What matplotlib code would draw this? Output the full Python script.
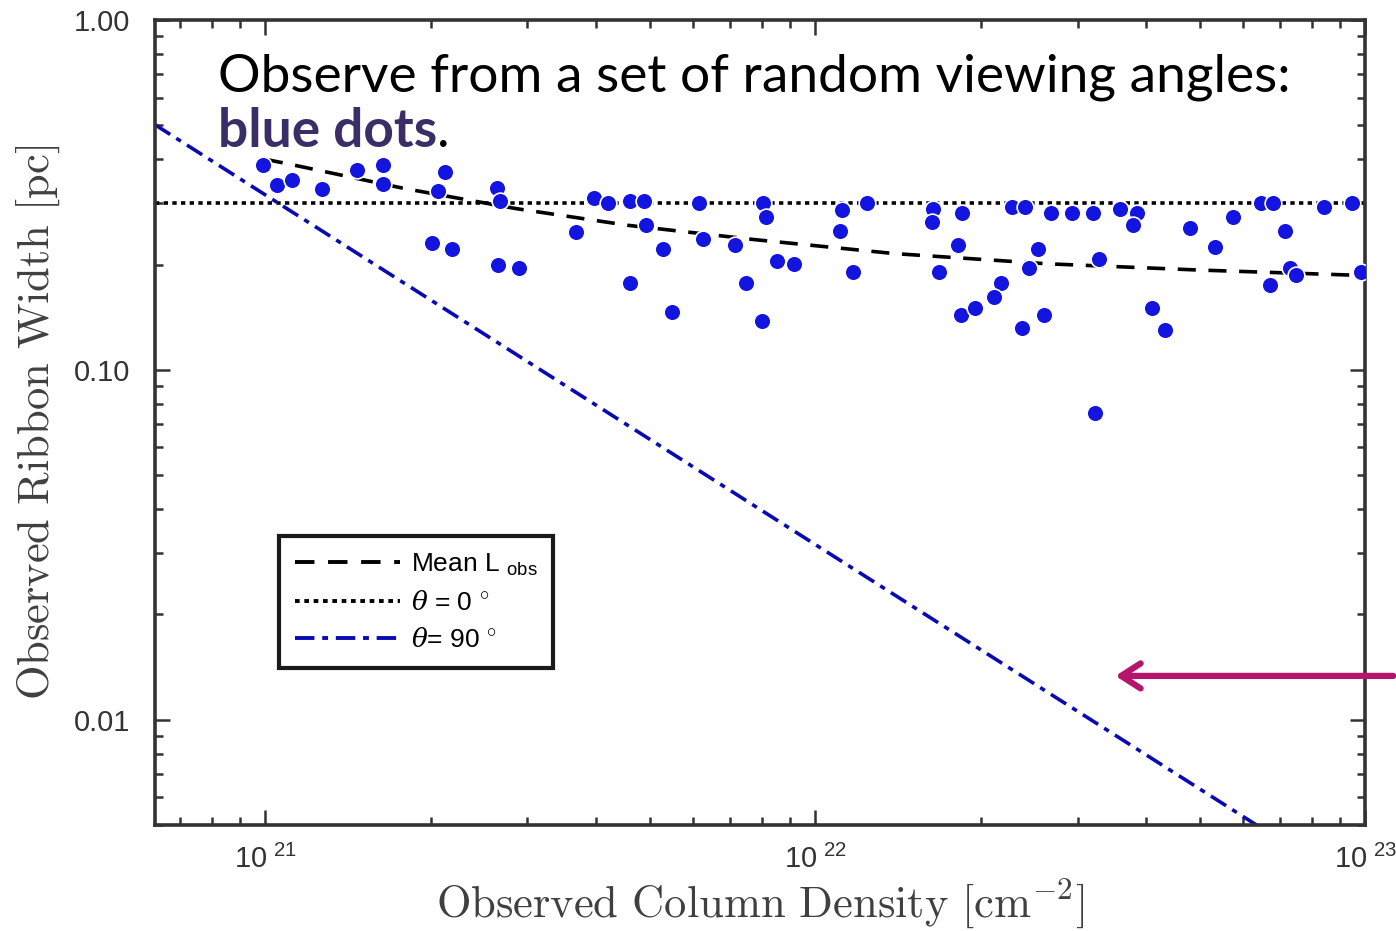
import numpy as np
import matplotlib
matplotlib.use('Agg')
from matplotlib import pyplot as plt
from matplotlib.lines import Line2D
from matplotlib.patches import FancyArrowPatch

plt.rcParams['font.family'] = ['Liberation Sans', 'DejaVu Sans']
plt.rcParams['mathtext.fontset'] = 'custom'
plt.rcParams['mathtext.rm'] = 'cmr10'
plt.rcParams['mathtext.sf'] = 'Liberation Sans'
plt.rcParams['mathtext.it'] = 'DejaVu Serif:italic'
plt.rcParams['mathtext.fallback'] = 'cm'

# observed column density [cm^-2] and ribbon width [pc] for each viewing angle
column_density = [0.99e21, 1.05e21, 1.12e21, 1.27e21, 1.47e21, 1.64e21, 1.64e21, 2.12e21, 2.06e21,
                  2.64e21, 2.67e21, 2.01e21, 2.19e21, 2.65e21, 2.89e21, 3.67e21, 3.97e21, 4.21e21,
                  4.61e21, 4.89e21, 4.93e21, 5.30e21, 4.61e21, 5.50e21, 6.15e21, 6.26e21, 7.16e21,
                  7.50e21, 8.05e21, 8.15e21, 8.02e21, 8.54e21, 9.16e21, 1.11e22, 1.12e22, 1.17e22,
                  1.24e22, 1.64e22, 1.63e22, 1.85e22, 1.82e22, 1.68e22, 1.84e22, 1.95e22, 2.18e22,
                  2.11e22, 2.38e22, 2.45e22, 2.54e22, 2.61e22, 2.28e22, 2.41e22, 2.68e22, 2.93e22,
                  3.20e22, 3.28e22, 3.58e22, 3.84e22, 3.79e22, 4.09e22, 4.32e22, 4.81e22, 5.34e22,
                  5.74e22, 6.45e22, 6.81e22, 7.16e22, 7.31e22, 7.47e22, 6.70e22, 8.40e22, 9.44e22,
                  9.84e22, 3.23e22]
ribbon_width = [0.384, 0.337, 0.350, 0.328, 0.372, 0.384, 0.339, 0.367, 0.324,
                0.330, 0.303, 0.231, 0.222, 0.199, 0.196, 0.247, 0.309, 0.300,
                0.303, 0.303, 0.260, 0.222, 0.177, 0.146, 0.300, 0.236, 0.228,
                0.177, 0.300, 0.273, 0.138, 0.205, 0.201, 0.250, 0.286, 0.190,
                0.300, 0.289, 0.265, 0.280, 0.228, 0.190, 0.143, 0.150, 0.177,
                0.162, 0.132, 0.195, 0.222, 0.143, 0.293, 0.293, 0.280, 0.280,
                0.280, 0.208, 0.289, 0.280, 0.259, 0.150, 0.130, 0.255, 0.225,
                0.273, 0.300, 0.300, 0.250, 0.196, 0.187, 0.175, 0.293, 0.300,
                0.191, 0.0753]

# mean observed width
mean_density = [1.0e21, 1.11e21, 1.79e21, 2.86e21, 4.56e21, 7.69e21, 1.39e22, 2.64e22, 4.93e22, 1.0e23]
mean_width = [0.400, 0.387, 0.330, 0.289, 0.259, 0.236, 0.215, 0.201, 0.193, 0.186]

# face-on (theta = 0) and edge-on (theta = 90) widths
theta0_density = [6.31e20, 1.0e23]
theta0_width = [0.30, 0.30]
theta90_density = [6.31e20, 1.0e23]
theta90_width = [0.502, 0.00317]

x_ticks = [1e21, 1e22, 1e23]
x_ticklabels = [r'$\mathsf{10^{\ 21}}$', r'$\mathsf{10^{\ 22}}$', r'$\mathsf{10^{\ 23}}$']
y_ticks = [0.01, 0.1, 1.0]
y_ticklabels = ['0.01', '0.10', '1.00']

mean_style = (0, (5, 3.5))
dot_style = (0, (1.2, 1.2))
dashdot_style = (0, (5, 2, 1.5, 2))
edge_blue = '#0a0ab4'

fig = plt.figure(figsize=(13.96, 9.31), dpi=100)
ax = fig.add_axes([0.111, 0.1139, 0.867, 0.8646])

ax.plot(theta0_density, theta0_width, color='black', linestyle=dot_style, linewidth=2.6, zorder=2)
ax.plot(theta90_density, theta90_width, color=edge_blue, linestyle=dashdot_style, linewidth=2.6, zorder=2)
ax.plot(mean_density, mean_width, color='black', linestyle=mean_style, linewidth=2.6, zorder=3)
ax.scatter(column_density, ribbon_width, s=145, color='#1414e0', edgecolors='white', linewidths=1.2, zorder=4)

ax.set_xscale('log')
ax.set_yscale('log')
ax.set_xlim(6.31e20, 1e23)
ax.set_ylim(0.005, 1.0)

ax.set_xticks(x_ticks)
ax.set_xticklabels(x_ticklabels)
ax.set_yticks(y_ticks)
ax.set_yticklabels(y_ticklabels)
ax.tick_params(which='both', direction='in', top=True, right=True, colors='#333333', width=1.8)
ax.tick_params(which='major', length=11, labelsize=21)
ax.tick_params(which='minor', length=6)
ax.tick_params(axis='x', which='major', pad=14)
ax.tick_params(axis='y', which='major', pad=18)
for sp in ax.spines.values():
    sp.set_linewidth(2.6)
    sp.set_color('#333333')

ax.set_xlabel(r'$\mathrm{Observed\ Column\ Density\ [cm^{-2}]}$', fontsize=32, color='#404040', labelpad=2)
ax.set_ylabel(r'$\mathrm{Observed\ Ribbon\ Width\ [pc]}$', fontsize=32, color='#404040', labelpad=8)

handles = [Line2D([], [], color='black', linestyle=mean_style, linewidth=2.8),
           Line2D([], [], color='black', linestyle=dot_style, linewidth=2.8),
           Line2D([], [], color=edge_blue, linestyle=dashdot_style, linewidth=2.8)]
labels = [r'Mean L $_{\mathsf{obs}}$', r'$\theta$ = 0 $^{\circ}$', r'$\theta$= 90 $^{\circ}$']
leg = ax.legend(handles, labels, loc='lower left', bbox_to_anchor=(0.1025, 0.195), borderaxespad=0,
                fontsize=19, frameon=True, fancybox=False, framealpha=1, handlelength=4.0,
                handletextpad=0.4, labelspacing=0.5, borderpad=0.6)
leg.get_frame().set_edgecolor('#1a1a1a')
leg.get_frame().set_linewidth(3)

fig.text(0.156, 0.902, 'Observe from a set of random viewing angles:', fontsize=38.3,
         family='Lato', color='black')
t = fig.text(0.156, 0.842, 'blue dots', fontsize=38.3, family='Lato', weight='bold', color='#3b2e66')
fig.canvas.draw()
bb = t.get_window_extent()
fig.text(bb.x1 / fig.bbox.width, 0.842, '.', fontsize=38.3, family='Lato', color='black')

fig.add_artist(FancyArrowPatch((1.0, 0.274), (0.797, 0.274), transform=fig.transFigure,
                               arrowstyle='->,head_length=14,head_width=9',
                               color='#b5156a', linewidth=4.5, capstyle='round',
                               joinstyle='round', mutation_scale=1))

fig.savefig('out.png', dpi=100)
